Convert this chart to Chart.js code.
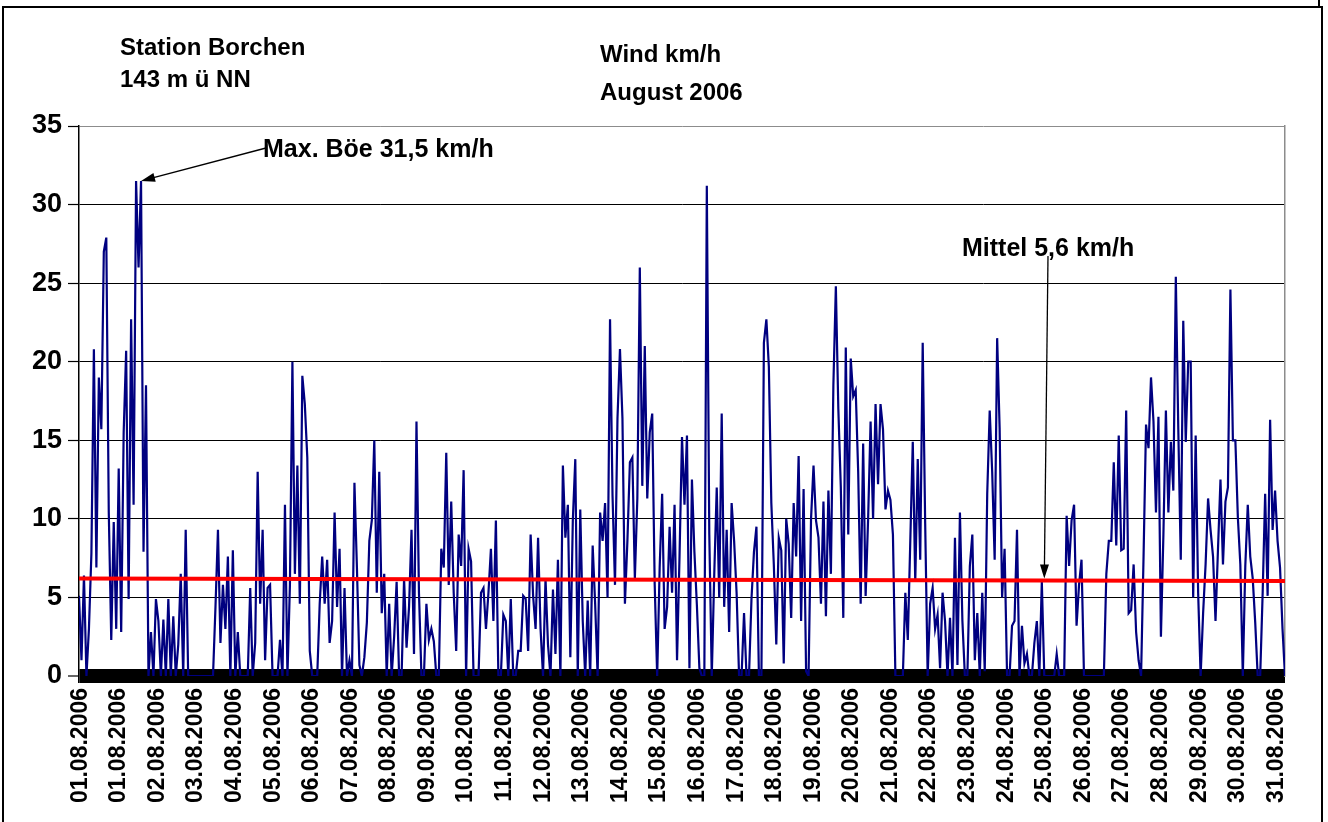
<!DOCTYPE html>
<html>
<head>
<meta charset="utf-8">
<title>Wind km/h August 2006</title>
<script src="https://cdn.jsdelivr.net/npm/chart.js@4.4.0/dist/chart.umd.min.js"></script>
<style>
  html, body { margin: 0; padding: 0; background: #fff; overflow: hidden; }
  #wrap { position: relative; width: 1328px; height: 822px; }
  #chart { position: absolute; left: 0; top: 0; }
  #frame { position: absolute; left: 2px; top: 6px; width: 1321px; height: 840px;
           border: 2px solid #000; box-sizing: border-box; }
  #nub { position: absolute; left: 1318px; top: 0; width: 2px; height: 7px; background: #000; }
</style>
</head>
<body>
<div id="wrap">
  <canvas id="chart" width="1328" height="822"></canvas>
  <div id="frame"></div>
  <div id="nub"></div>
</div>
<script>
// wind speed km/h (approx. every 1.5 h)
const windSpeed = [
  5.1, 1.0, 6.4, 0, 3.0, 7.8, 20.8, 6.9, 19.0, 15.7, 27.0, 27.9, 10.4, 2.3, 9.8, 3.0,
  13.2, 2.8, 15.5, 20.7, 4.9, 22.7, 10.9, 31.5, 26.0, 31.5, 7.9, 18.5, 0, 2.8, 0, 4.9,
  3.5, 0, 3.6, 0, 4.9, 0, 3.8, 0, 2.0, 6.5, 0, 9.3, 0, 0, 0, 0,
  0, 0, 0, 0, 0, 0, 0, 4.4, 9.3, 2.1, 5.8, 3.0, 7.6, 0, 8.0, 0,
  2.8, 0, 0, 0, 0, 5.6, 0, 2.1, 13.0, 4.6, 9.3, 1.0, 5.6, 5.8, 0, 0,
  0, 2.3, 0, 10.9, 0, 5.8, 20.0, 6.5, 13.4, 4.6, 19.1, 17.3, 13.9, 1.6, 0, 0,
  0, 4.6, 7.6, 4.6, 7.4, 2.1, 3.5, 10.4, 4.4, 8.1, 0, 5.6, 0, 1.0, 0, 12.3,
  6.9, 0.7, 0, 1.2, 3.4, 8.6, 9.9, 15.0, 5.3, 13.0, 4.0, 6.5, 0, 4.6, 0, 2.5,
  6.0, 0, 0, 6.2, 1.8, 4.4, 9.3, 1.4, 16.2, 5.3, 0, 0, 4.6, 2.3, 3.0, 2.2,
  0, 0, 8.1, 6.9, 14.2, 5.8, 11.1, 5.3, 1.6, 9.0, 7.0, 13.1, 0, 8.1, 7.3, 0,
  0, 0, 5.3, 5.6, 3.0, 5.3, 8.1, 3.5, 9.9, 0, 0, 3.9, 3.5, 0, 4.9, 0,
  0, 1.6, 1.6, 5.1, 4.9, 1.6, 9.0, 5.1, 3.0, 8.8, 3.0, 0, 6.2, 2.0, 0, 5.5,
  1.4, 7.4, 0, 13.4, 8.8, 10.9, 1.2, 9.9, 13.8, 0, 10.6, 3.5, 0, 4.8, 0, 8.3,
  4.6, 0, 10.4, 8.6, 11.0, 5.0, 22.7, 11.5, 5.8, 16.4, 20.8, 16.4, 4.6, 8.6, 13.6, 13.9,
  6.2, 11.3, 26.0, 12.1, 21.0, 11.3, 15.5, 16.7, 5.8, 0, 6.9, 11.6, 3.0, 4.4, 9.5, 5.3,
  10.9, 1.0, 7.6, 15.2, 10.9, 15.3, 0.5, 12.5, 7.9, 4.5, 0.5, 0, 0, 31.2, 9.0, 0,
  6.5, 12.0, 5.0, 16.7, 4.4, 9.3, 2.8, 11.0, 8.6, 5.3, 0, 0, 4.0, 0, 0, 4.9,
  7.9, 9.5, 0, 0, 21.2, 22.7, 19.7, 11.0, 7.1, 2.0, 8.8, 8.0, 0.8, 10.0, 8.4, 3.7,
  11.0, 7.6, 14.0, 3.5, 11.9, 0.3, 0, 10.0, 13.4, 9.9, 8.8, 4.6, 11.1, 3.8, 11.8, 6.5,
  18.5, 24.8, 17.0, 12.0, 3.7, 20.9, 9.0, 20.2, 17.8, 18.2, 13.0, 4.6, 14.8, 5.1, 10.0, 16.2,
  10.0, 17.3, 12.2, 17.3, 15.7, 10.6, 11.8, 11.2, 9.0, 0, 0, 0, 0, 5.3, 2.3, 8.6,
  14.9, 6.0, 13.8, 7.4, 21.2, 9.7, 0, 4.6, 5.6, 3.0, 3.9, 0.5, 5.3, 3.5, 0, 3.7,
  0, 8.8, 0.7, 10.4, 3.5, 0, 0, 7.0, 9.0, 1.0, 4.0, 0, 5.3, 0.3, 11.6, 16.9,
  13.0, 7.4, 21.5, 15.8, 5.0, 8.1, 0, 0, 3.2, 3.5, 9.3, 0, 3.2, 0.8, 1.4, 0,
  0, 2.1, 3.5, 0, 6.0, 0, 0, 0, 0, 0, 1.4, 0, 0, 0, 10.2, 7.0,
  9.9, 10.9, 3.2, 5.8, 7.4, 0, 0, 0, 0, 0, 0, 0, 0, 0, 6.5, 8.6,
  8.6, 13.6, 8.3, 15.3, 8.0, 8.1, 16.9, 4.0, 4.2, 7.1, 2.8, 1.0, 0, 7.6, 16.0, 14.5,
  19.0, 16.2, 10.4, 16.5, 2.5, 9.0, 16.9, 10.4, 14.9, 11.8, 25.4, 15.7, 7.4, 22.6, 14.9, 20.0,
  20.0, 5.0, 15.3, 5.3, 0, 4.0, 7.1, 11.3, 9.3, 7.6, 3.5, 8.1, 12.5, 7.1, 11.1, 12.0,
  24.6, 15.0, 15.0, 10.1, 7.1, 0, 7.0, 10.9, 7.6, 6.2, 3.4, 0, 0, 5.3, 11.6, 5.1,
  16.3, 9.3, 11.8, 8.6, 6.9, 3.0, 0
];

// red "Mittel" line, value at the first and the last reading
const meanLine = [6.2, 6.05];

const tickLabels = [
  "01.08.2006", "01.08.2006", "02.08.2006", "03.08.2006", "04.08.2006", "05.08.2006",
  "06.08.2006", "07.08.2006", "08.08.2006", "09.08.2006", "10.08.2006", "11.08.2006",
  "12.08.2006", "13.08.2006", "14.08.2006", "15.08.2006", "16.08.2006", "17.08.2006",
  "18.08.2006", "19.08.2006", "20.08.2006", "21.08.2006", "22.08.2006", "23.08.2006",
  "24.08.2006", "25.08.2006", "26.08.2006", "27.08.2006", "28.08.2006", "29.08.2006",
  "30.08.2006", "31.08.2006"
];

const yTicks = [0, 5, 10, 15, 20, 25, 30, 35];

const last = windSpeed.length - 1;
const firstTick = 0.5;   // index of the first date label
const labelStep = 15.55; // readings between two date labels
const font = '"Liberation Sans", Arial, sans-serif';

function arrow(ctx, x1, y1, x2, y2) {
  const a = Math.atan2(y2 - y1, x2 - x1);
  const c = Math.cos(a), s = Math.sin(a);
  ctx.beginPath();
  ctx.moveTo(x1, y1);
  ctx.lineTo(x2 - 10 * c, y2 - 10 * s);
  ctx.lineWidth = 1.3;
  ctx.stroke();
  ctx.beginPath();
  ctx.moveTo(x2, y2);
  ctx.lineTo(x2 - 14 * c + 4.5 * s, y2 - 14 * s - 4.5 * c);
  ctx.lineTo(x2 - 14 * c - 4.5 * s, y2 - 14 * s + 4.5 * c);
  ctx.closePath();
  ctx.fill();
}

const annotations = {
  id: "annotations",
  afterDatasetsDraw(chart) {
    const { ctx } = chart;
    const x = chart.scales.x, y = chart.scales.y;
    ctx.save();
    ctx.fillStyle = "#000";
    ctx.strokeStyle = "#000";
    ctx.textBaseline = "alphabetic";
    ctx.font = "bold 24px " + font;
    ctx.fillText("Station Borchen", 120, 55);
    ctx.fillText("143 m ü NN", 120, 87);
    ctx.fillText("Wind km/h", 600, 62);
    ctx.fillText("August 2006", 600, 100);

    ctx.font = "bold 25px " + font;
    // max gust
    const iMax = windSpeed.lastIndexOf(Math.max(...windSpeed));
    ctx.fillText("Max. Böe 31,5 km/h", 263, 157);
    arrow(ctx, 266, 148, x.getPixelForValue(iMax), y.getPixelForValue(windSpeed[iMax]));

    // mean
    const iMean = 389;
    const meanAt = meanLine[0] + (meanLine[1] - meanLine[0]) * iMean / last;
    ctx.fillText("Mittel 5,6 km/h", 962, 256);
    arrow(ctx, 1048, 256, x.getPixelForValue(iMean), y.getPixelForValue(meanAt) - 2);
    ctx.restore();
  }
};

const ctx = document.getElementById("chart").getContext("2d");
const myChart = new Chart(ctx, {
  type: "line",
  data: {
    datasets: [
      {
        label: "Mittel",
        data: [{ x: 0, y: meanLine[0] }, { x: last, y: meanLine[1] }],
        borderColor: "#ff0000",
        borderWidth: 4,
        pointRadius: 0,
        order: 0,
      },
      {
        label: "Wind km/h",
        data: windSpeed.map((v, i) => ({ x: i, y: v })),
        borderColor: "#000080",
        borderWidth: 2.2,
        pointRadius: 0,
        tension: 0,
        order: 1,
      },
    ],
  },
  options: {
    responsive: false,
    animation: false,
    devicePixelRatio: 1,
    layout: { padding: { top: 126, right: 43, left: 0, bottom: 0 } },
    plugins: {
      legend: { display: false },
      tooltip: { enabled: false },
      title: { display: false },
    },
    scales: {
      x: {
        type: "linear",
        min: 0,
        max: last,
        afterBuildTicks: (s) => {
          s.ticks = tickLabels.map((t, i) => ({ value: firstTick + i * labelStep }));
        },
        afterFit: (s) => { s.height = 146; },
        ticks: {
          autoSkip: false,
          minRotation: 90,
          maxRotation: 90,
          padding: 12,
          color: "#000",
          font: { family: font, size: 23, weight: "bold" },
          callback: (v, i) => tickLabels[i],
        },
        grid: { display: false, drawTicks: false },
        border: { display: false },
      },
      y: {
        min: 0,
        max: 35,
        afterBuildTicks: (s) => { s.ticks = yTicks.map((v) => ({ value: v })); },
        afterFit: (s) => { s.width = 79; },
        ticks: {
          padding: 6,
          color: "#000",
          font: { family: font, size: 27, weight: "bold" },
        },
        grid: {
          color: (c) => (c.tick && c.tick.value === 35 ? "#8c8c8c" : "#000"),
          lineWidth: (c) => (c.tick && c.tick.value === 0 ? 14 : 1),
          tickWidth: 1.2,
          tickColor: "#000",
          tickLength: 11,
        },
        border: { color: "#000", width: 1.5 },
      },
      y2: {
        position: "right",
        min: 0,
        max: 35,
        afterFit: (s) => { s.width = 0; },
        ticks: { display: false },
        grid: { display: false },
        border: { color: "#8c8c8c", width: 1.5 },
      },
    },
  },
  plugins: [annotations],
});
</script>
</body>
</html>
